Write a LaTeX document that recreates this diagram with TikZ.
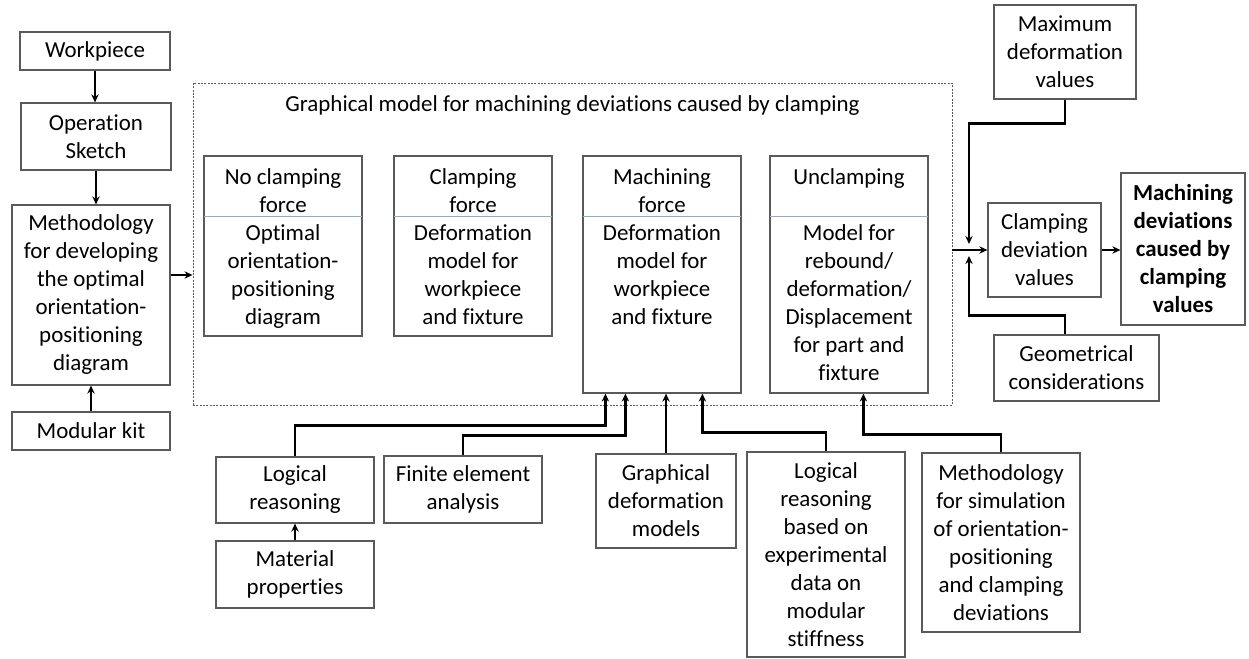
\documentclass[tikz,border=0pt]{standalone}
\usepackage{fontspec}
\setmainfont{Carlito}[Ligatures=NoCommon]
\usetikzlibrary{calc}
\usetikzlibrary{arrows.meta, positioning}
\tikzset{>={Stealth[length=6pt,width=5.5pt]}}
\definecolor{boxgray}{RGB}{90,90,90}
\definecolor{divblue}{RGB}{143,170,220}

\begin{document}
\begin{tikzpicture}[x=0.75pt, y=-0.75pt,
    blk/.style={draw=boxgray, line width=0.9pt, align=center, inner sep=0pt,
      font=\fontsize{17.2}{21}\selectfont},
    sz/.style 2 args={minimum width=#1*0.75pt, minimum height=#2*0.75pt},
    txt/.style={align=center, inner sep=0pt, anchor=base, font=\fontsize{17.2}{21}\selectfont},
    link/.style={->, line width=1.5pt},
    wire/.style={->, line width=2.2pt}]
  \useasboundingbox (0,0) rectangle (1249,659);

  \node[blk, sz={150}{38}] (wp) at (95,51) {Workpiece};
  \node[blk, sz={150}{67}] (ops) at (96,136.5) {Operation\\Sketch};
  \node[blk, sz={158}{180}] (meth) at (91,295) {Methodology\\for developing\\the optimal\\orientation-\\positioning\\diagram};
  \node[blk, sz={158}{38}] (kit) at (91,431) {Modular kit};
  \draw[link] (wp.south) -- (wp.south |- ops.north);
  \draw[link] (ops.south) -- (ops.south |- meth.north);
  \draw[link] (kit.north) -- (meth.south);

  \node[draw=boxgray, line width=0.7pt, dash pattern=on 1.5pt off 1pt, sz={759}{322}] (grp) at (572.5,244) {};
  \node[txt] (grptitle) at (572.5,112) {Graphical model for machining deviations caused by clamping};
  \coordinate (mo) at ($(meth.east)+(0,-20)$);
  \draw[link] (mo) -- (mo -| grp.west);

  \node[blk, sz={158}{180}] (nc) at (283,246) {};
  \node[blk, sz={158}{180}] (cf) at (473,246) {};
  \node[blk, sz={158}{237}] (mf) at (662,274.5) {};
  \node[blk, sz={158}{237}] (uc) at (849,274.5) {};
  \foreach \b in {nc,cf,mf,uc}
    \draw[divblue, line width=1pt] ($(\b.north west)+(0.6,61)$) -- ($(\b.north east)+(-0.6,61)$);
  \node[txt] (nch) at ($(nc.north)+(0,57)$) {No clamping\\force};
  \node[txt] (ncb) at ($(nc.north)+(0,169)$) {Optimal\\orientation-\\positioning\\diagram};
  \node[txt] (cfh) at ($(cf.north)+(0,57)$) {Clamping\\force};
  \node[txt] (cfb) at ($(cf.north)+(0,169)$) {Deformation\\model for\\workpiece\\and fixture};
  \node[txt] (mfh) at ($(mf.north)+(0,57)$) {Machining\\force};
  \node[txt] (mfb) at ($(mf.north)+(0,169)$) {Deformation\\model for\\workpiece\\and fixture};
  \node[txt] (uch) at ($(uc.north)+(0,29)$) {Unclamping};
  \node[txt] (ucb) at ($(uc.north)+(0,225)$) {Model for\\rebound/\\deformation/\\Displacement\\for part and\\fixture};

  \node[blk, sz={142}{94}] (mx) at (1065,52) {Maximum\\deformation\\values};
  \node[blk, sz={113}{94}] (cdv) at (1044.5,250) {Clamping\\deviation\\values};
  \node[blk, sz={124}{152}, font=\fontsize{17.2}{21}\selectfont\bfseries] (mdv) at (1183,249) {Machining\\deviations\\caused by\\clamping\\values};
  \node[blk, sz={165}{66}] (geo) at (1076.5,368) {Geometrical\\considerations};
  \coordinate (jt) at (969,244);
  \coordinate (jb) at (969,256);
  \draw[wire] (grp.east |- cdv.west) -- (cdv.west);
  \draw[wire] (mx.south) -- ++(0,24) -| (jt);
  \draw[wire] (geo.north -| mx.south) -- ++(0,-19) -| (jb);
  \draw[link] (cdv.east) -- (cdv.east -| mdv.west);

  \node[blk, sz={158}{66}] (lr) at (295,490) {Logical\\reasoning};
  \node[blk, sz={158}{67}] (mp) at (295,574.5) {Material\\properties};
  \node[blk, sz={158}{67}] (fea) at (463,489.5) {Finite element\\analysis};
  \node[blk, sz={140}{94}] (gdm) at (666,501) {Graphical\\deformation\\models};
  \node[blk, sz={158}{205}] (lrb) at (826,554.5) {Logical\\reasoning\\based on\\experimental\\data on\\modular\\stiffness};
  \node[blk, sz={158}{179}] (msim) at (1001,542.5) {Methodology\\for simulation\\of orientation-\\positioning\\and clamping\\deviations};
  \draw[link] (mp.north) -- (lr.south);
  \coordinate (in1) at ($(mf.south west)+(23,0)$);
  \coordinate (in2) at ($(mf.south west)+(43,0)$);
  \coordinate (in4) at ($(mf.south west)+(120,0)$);
  \coordinate (in5) at ($(uc.south west)+(94,0)$);
  \draw[wire] (lr.north) -- ++(0,-31) -| (in1);
  \draw[wire] (fea.north) -- ++(0,-20) -| (in2);
  \draw[wire] (gdm.north) -- (gdm.north |- mf.south);
  \draw[wire] (lrb.north) -- ++(0,-19) -| (in4);
  \draw[wire] (msim.north) -- ++(0,-18) -| (in5);
\end{tikzpicture}
\end{document}
